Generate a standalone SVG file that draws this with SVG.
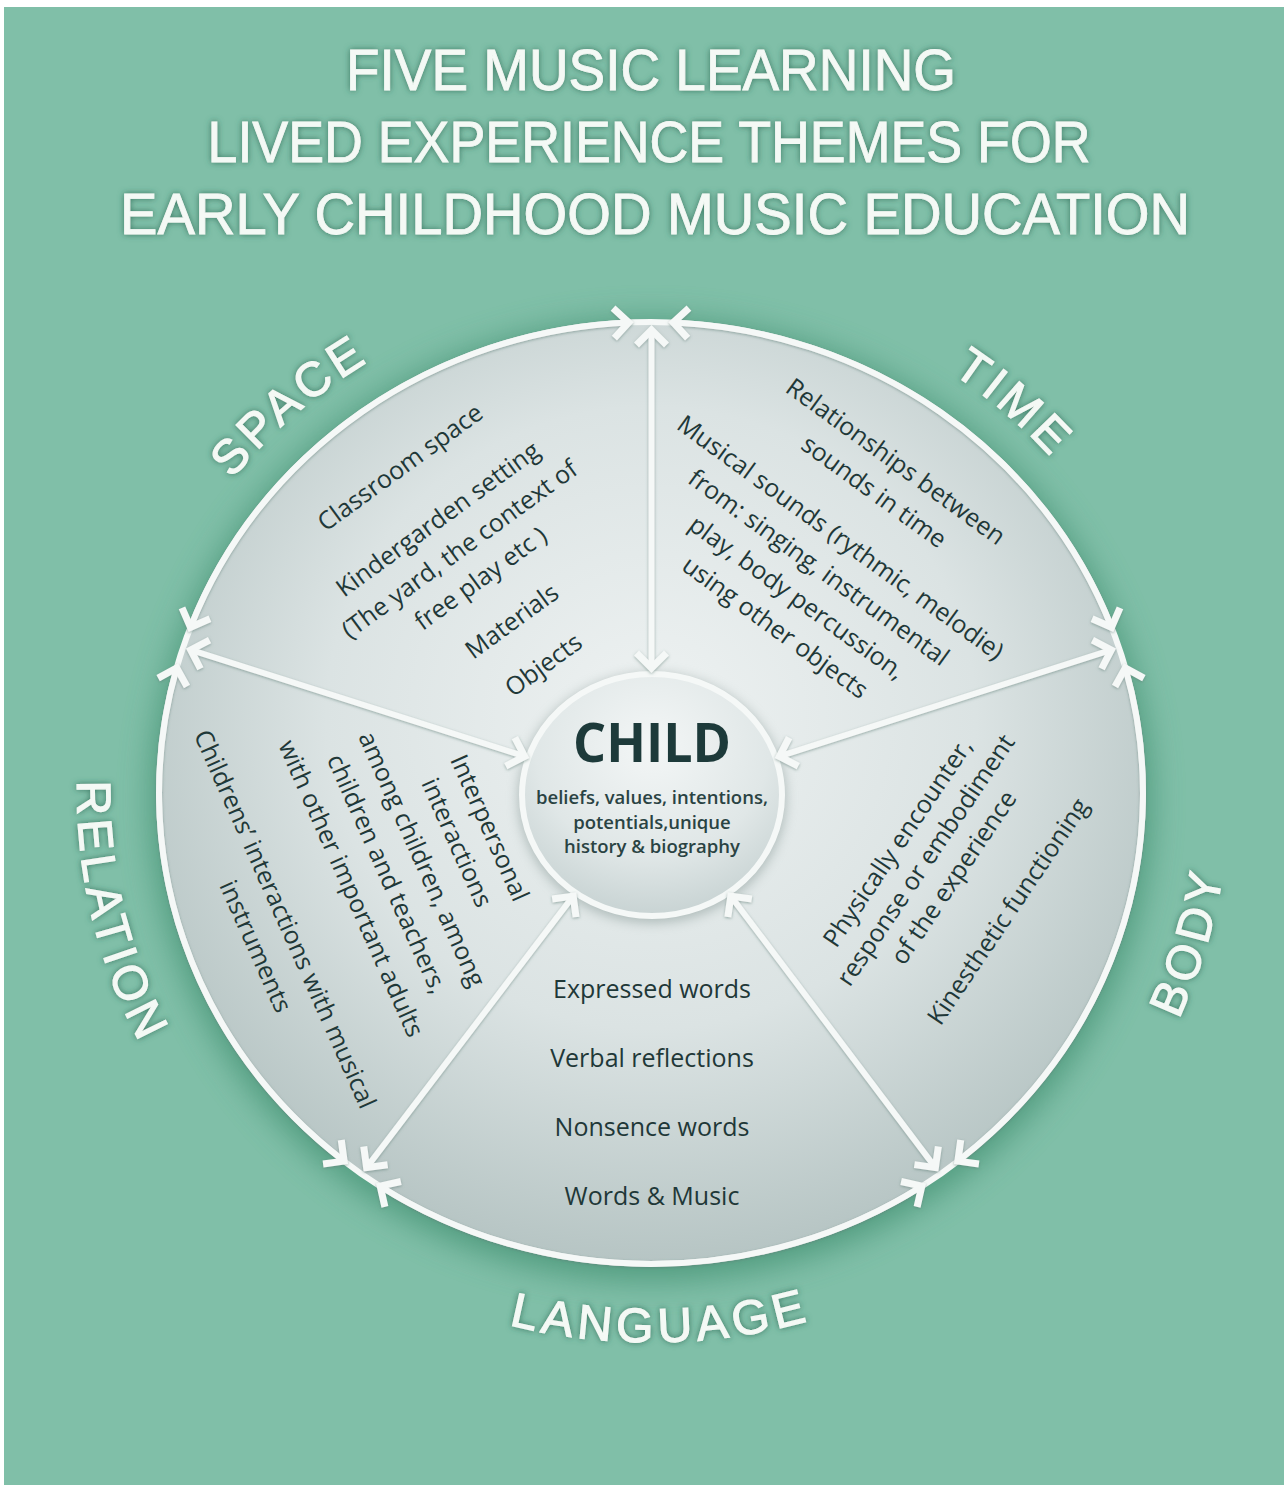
<svg xmlns="http://www.w3.org/2000/svg" width="1284" height="1485" viewBox="0 0 1284 1485">
<defs>
<style>
.title{font-family:"Liberation Sans",Arial,sans-serif;font-size:57px;fill:#f4f9f5;stroke:#f4f9f5;stroke-width:0.8px;text-anchor:middle;filter:url(#tsh)}
.label{font-family:"Liberation Sans",Arial,sans-serif;font-size:48px;fill:#f4f9f5;stroke:#f4f9f5;stroke-width:1.2px;letter-spacing:5px;filter:url(#tsh)}
.item{font-family:"Open Sans","Noto Sans",sans-serif;font-size:25px;fill:#1f3838;text-anchor:middle}
.sub{font-family:"Open Sans","Noto Sans",sans-serif;font-size:18.5px;font-weight:600;fill:#2a4343;text-anchor:middle}
.child{font-family:"Open Sans","Noto Sans",sans-serif;font-size:53px;font-weight:700;fill:#1d3a3a;text-anchor:middle}
.conn{fill:none;stroke:#f5f8f7;stroke-width:6;marker-start:url(#chev);marker-end:url(#chev)}
</style>
<filter id="tsh" x="-20%" y="-30%" width="140%" height="160%">
<feGaussianBlur in="SourceAlpha" stdDeviation="3" result="b"/>
<feFlood flood-color="#2c6a55" flood-opacity="0.85"/>
<feComposite in2="b" operator="in" result="s"/>
<feMerge><feMergeNode in="s"/><feMergeNode in="SourceGraphic"/></feMerge>
</filter>
<filter id="blur" x="-20%" y="-20%" width="140%" height="140%"><feGaussianBlur stdDeviation="16"/></filter>
<filter id="blur2" x="-30%" y="-30%" width="160%" height="160%"><feGaussianBlur stdDeviation="6"/></filter>
<filter id="csh" x="-10%" y="-10%" width="120%" height="120%">
<feDropShadow dx="0" dy="1" stdDeviation="1.5" flood-color="#5f7f77" flood-opacity="0.6"/>
</filter>
<radialGradient id="discg" cx="0.5" cy="0.42" r="0.6">
<stop offset="0" stop-color="#eef2f2"/>
<stop offset="0.55" stop-color="#dbe3e3"/>
<stop offset="1" stop-color="#b3c2c1"/>
</radialGradient>
<radialGradient id="childg" cx="0.5" cy="0.3" r="0.75">
<stop offset="0" stop-color="#f3f6f6"/>
<stop offset="0.6" stop-color="#e0e7e7"/>
<stop offset="1" stop-color="#c3cfcf"/>
</radialGradient>
<marker id="chev" viewBox="-24 -22 32 44" markerWidth="32" markerHeight="44" refX="0" refY="0" orient="auto-start-reverse" markerUnits="userSpaceOnUse">
<path d="M-15,-15 L0,0 L-15,15" fill="none" stroke="#f5f8f7" stroke-width="7"/>
</marker>
<path id="pSpace" d="M 161.3 594.1 A 532 509 0 0 1 495.4 306.2"/>
<path id="pTime" d="M 806.6 306.2 A 532 509 0 0 1 1140.7 594.1"/>
<path id="pLang" d="M 420.0 1294.8 A 568 549 0 0 0 900.0 1286.7"/>
<path id="pBody" d="M 1093.7 1148.5 A 578 553 0 0 0 1223.4 716.0"/>
<path id="pRel" d="M 96.8 651.2 A 574 549 0 0 0 217.8 1153.2"/>
</defs>

<rect x="0" y="0" width="1284" height="1485" fill="#ffffff"/>
<rect x="4" y="7" width="1280" height="1478" fill="#80bfa8"/>

<g id="title">
<text class="title" x="651" y="90" textLength="610" lengthAdjust="spacingAndGlyphs">FIVE MUSIC LEARNING</text>
<text class="title" x="649" y="162" textLength="883" lengthAdjust="spacingAndGlyphs">LIVED EXPERIENCE THEMES FOR</text>
<text class="title" x="655" y="234" textLength="1070" lengthAdjust="spacingAndGlyphs">EARLY CHILDHOOD MUSIC EDUCATION</text>
</g>

<g id="disc">
<ellipse cx="651" cy="800" rx="500" ry="480" fill="#3f8f70" opacity="0.75" filter="url(#blur)"/>
<ellipse cx="651" cy="793" rx="492" ry="471" fill="url(#discg)" stroke="#f5f8f7" stroke-width="6"/>
</g>

<g id="node-child">
<ellipse cx="652" cy="798" rx="134" ry="125" fill="#7d8f8c" opacity="0.5" filter="url(#blur2)"/>
<ellipse cx="652" cy="795" rx="130" ry="121" fill="url(#childg)" stroke="#f5f8f7" stroke-width="6"/>
<text class="child" x="652" y="762" textLength="158" lengthAdjust="spacingAndGlyphs">CHILD</text>
<text class="sub" x="652" y="804">beliefs, values, intentions,</text>
<text class="sub" x="652" y="829">potentials,unique</text>
<text class="sub" x="652" y="853">history &amp; biography</text>
</g>

<g id="connectors" filter="url(#csh)">
<path class="conn" d="M 673.3 322.5 A 492 471 0 0 1 1111.5 627.3"/>
<path class="conn" d="M 1125.3 667.9 A 492 471 0 0 1 957.9 1161.1"/>
<path class="conn" d="M 921.8 1186.2 A 492 471 0 0 1 380.2 1186.2"/>
<path class="conn" d="M 344.1 1161.1 A 492 471 0 0 1 176.7 667.9"/>
<path class="conn" d="M 190.5 627.3 A 492 471 0 0 1 628.7 322.5"/>
<path class="conn" d="M 651.5 330 L 651.5 668"/>
<path class="conn" d="M 1111.3 649.9 L 779.4 756.4"/>
<path class="conn" d="M 935.4 1167.6 L 730.8 896.1"/>
<path class="conn" d="M 366.6 1167.6 L 573.2 896.1"/>
<path class="conn" d="M 190.7 649.9 L 524.6 756.4"/>
</g>

<g id="node-space">
<text class="label"><textPath href="#pSpace" startOffset="50%" text-anchor="middle">SPACE</textPath></text>
<text class="item" transform="translate(405.2,474.4) rotate(-36)">Classroom space</text>
<text class="item" transform="translate(442.8,526.2) rotate(-36)">Kindergarden setting</text>
<text class="item" transform="translate(464.6,556.2) rotate(-36)">(The yard, the context of</text>
<text class="item" transform="translate(485.7,585.3) rotate(-36)">free play etc )</text>
<text class="item" transform="translate(516.9,628.2) rotate(-36)">Materials</text>
<text class="item" transform="translate(548.6,671.8) rotate(-36)">Objects</text>
</g>

<g id="node-time">
<text class="label"><textPath href="#pTime" startOffset="50%" text-anchor="middle">TIME</textPath></text>
<text class="item" transform="translate(890.7,468.5) rotate(36)">Relationships between</text>
<text class="item" transform="translate(869.0,498.5) rotate(36)">sounds in time</text>
<text class="item" transform="translate(835.5,544.6) rotate(36)">Musical sounds (rythmic, melodie)</text>
<text class="item" transform="translate(813.7,574.5) rotate(36)">from: singing, instrumental</text>
<text class="item" transform="translate(791.9,604.5) rotate(36)">play, body percussion,</text>
<text class="item" transform="translate(770.2,634.4) rotate(36)">using other objects</text>
</g>

<g id="node-body">
<text class="label"><textPath href="#pBody" startOffset="50%" text-anchor="middle">BODY</textPath></text>
<text class="item" transform="translate(904.8,847.3) rotate(-56)">Physically encounter,</text>
<text class="item" transform="translate(932.7,864.8) rotate(-56)">response or embodiment</text>
<text class="item" transform="translate(960.7,882.3) rotate(-56)">of the experience</text>
<text class="item" transform="translate(1015.0,916.2) rotate(-56)">Kinesthetic functioning</text>
</g>

<g id="node-language">
<text class="label"><textPath href="#pLang" startOffset="50%" text-anchor="middle">LANGUAGE</textPath></text>
<text class="item" x="652" y="998">Expressed words</text>
<text class="item" x="652" y="1067">Verbal reflections</text>
<text class="item" x="652" y="1136">Nonsence words</text>
<text class="item" x="652" y="1205">Words &amp; Music</text>
</g>

<g id="node-relation">
<text class="label"><textPath href="#pRel" startOffset="50%" text-anchor="middle">RELATION</textPath></text>
<text class="item" transform="translate(481.9,831.4) rotate(66)">Interpersonal</text>
<text class="item" transform="translate(449.0,846.0) rotate(66)">interactions</text>
<text class="item" transform="translate(414.1,862.7) rotate(66)">among children, among</text>
<text class="item" transform="translate(379.2,877.3) rotate(66)">children and teachers,</text>
<text class="item" transform="translate(343.3,892.0) rotate(66)">with other important adults</text>
<text class="item" transform="translate(277.2,922.6) rotate(66)">Childrens’ interactions with musical</text>
<text class="item" transform="translate(247.8,949.9) rotate(66)">instruments</text>
</g>
</svg>
